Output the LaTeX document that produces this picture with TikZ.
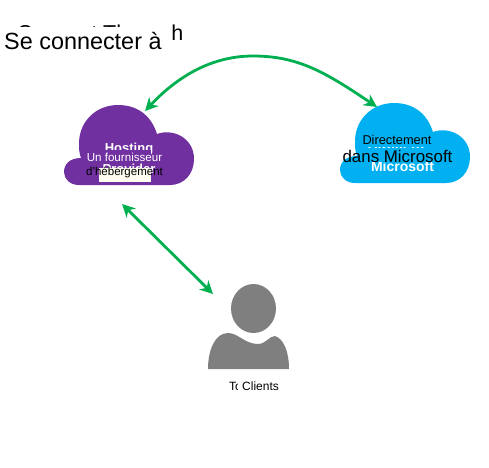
\documentclass[tikz,border=0pt]{standalone}
\usepackage{fontspec}
\setmainfont{Liberation Sans}
\usetikzlibrary{arrows.meta}
\definecolor{hostPurple}{RGB}{112,48,160}
\definecolor{directBlue}{RGB}{0,176,240}
\definecolor{linkGreen}{RGB}{0,176,80}
\definecolor{personGray}{RGB}{127,127,127}
\definecolor{maskCream}{RGB}{255,253,240}
\newcommand{\myCloud}[3]{%%
  %% Draw one cloud, #1 is the colour and (#2,#3) the shift.
  \fill[#1,shift={(#2,#3)}] (79,185)
  .. controls (70,185) and (64,179) .. (64,172)
  .. controls (64,164) and (70,158) .. (81,158)
  .. controls (79,153) and (79,148) .. (79,142)
  .. controls (80,120) and (97,105) .. (118,105)
  .. controls (137,105) and (151,115) .. (157,134)
  .. controls (173,128) and (194,138) .. (194,159)
  .. controls (194,174) and (184,185) .. (170,185)
  -- cycle;
}
\newcommand{\myPerson}{%%
  %% Draw the head and the shoulders.
  \fill[personGray] (253.5,308.5) ellipse (22.5 and 24.5);
  \fill[personGray] (208,369)
  .. controls (208,350) and (215,333) .. (228,333)
  .. controls (238,333) and (245,344) .. (258,344)
  .. controls (266,344) and (269,336) .. (275,336)
  .. controls (284,339) and (289,352) .. (289,369)
  -- cycle;
}
\begin{document}
\begin{tikzpicture}[%%
  x=1pt,y=-1pt,
  linkStyle/.style={{Stealth[length=13pt,width=13pt]}-{Stealth[length=13pt,width=13pt]},linkGreen,line width=2.8pt},
  oldLabel/.style={text=white,font=\fontsize{#1}{#1}\selectfont\bfseries,inner sep=0pt},
  newLabel/.style={inner sep=0pt,font=\fontsize{#1}{#1}\selectfont}
]
\useasboundingbox (0,0) rectangle (489,467);
%%
%% Where the connectors end.
\coordinate (hostingTop) at (145,111);
\coordinate (hostingLow) at (122,204);
\coordinate (linkPeak) at (253,56);
\coordinate (directTop) at (377,107);
\coordinate (clientsTop) at (213,294);
%%
%% The title, with its older text masked.
\node[newLabel=21.5,anchor=base west] (oldTitle) at (17,40) {Connect Through};
\fill[white] (0,27) rectangle (170,58);
\node[newLabel=23.4,anchor=base west] (newTitle) at (4,49) {Se connecter à};
%%
%% The hosting cloud.
\myCloud{hostPurple}{0}{0}
\node[oldLabel=13] (hostingOld) at (129,149) {Hosting};
\node[oldLabel=13] (providerOld) at (129,169) {Provider};
\fill[hostPurple] (99,150) rectangle (151,163);
\fill[maskCream] (99,168) rectangle (151,182);
\node[newLabel=11.6,text=white] (hostingNew) at (124.5,157.5) {Un fournisseur};
\node[newLabel=11.5] (hostingNewB) at (124.5,172) {d’hébergement};
%%
%% The direct cloud.
\myCloud{directBlue}{276}{-2}
\node[oldLabel=14] (directOld) at (396,148) {Direct to};
\node[oldLabel=14] (microsoftOld) at (402.5,166) {Microsoft};
\fill[directBlue] (362,131) rectangle (432,146.5);
\fill[directBlue] (362,148) rectangle (445,162);
\node[newLabel=12.8] (directNew) at (397,139.5) {Directement};
\node[newLabel=16.9] (directNewB) at (397.5,156.5) {dans Microsoft};
%%
%% The person.
\myPerson
\node[newLabel=12,anchor=base west] (clientsOld) at (229,390) {To};
\fill[white] (238,378) rectangle (242,394);
\node[newLabel=12,anchor=base west] (clientsNew) at (242,390) {Clients};
%%
%% The connectors.
\draw[linkStyle] (hostingTop) .. controls (178,76) and (212,56) .. (linkPeak) .. controls (298,56) and (325,72) .. (directTop);
\draw[linkStyle] (hostingLow) -- (clientsTop);
\end{tikzpicture}
\end{document}
